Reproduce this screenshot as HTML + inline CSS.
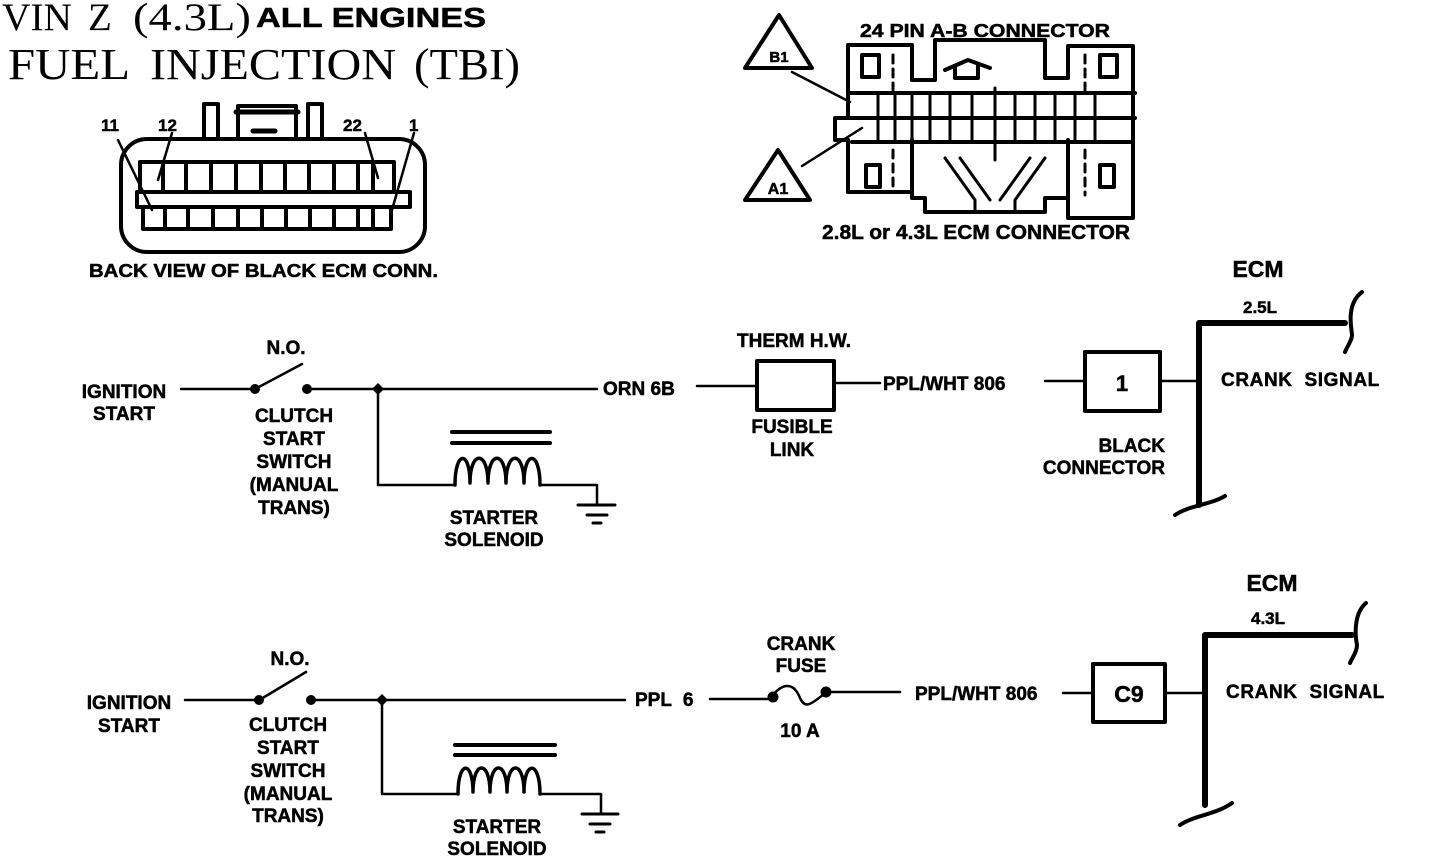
<!DOCTYPE html>
<html><head><meta charset="utf-8"><style>
html,body{margin:0;padding:0;background:#fff;}
svg{display:block;}
.t{font-family:"Liberation Sans",sans-serif;font-weight:bold;fill:#000;stroke:#000;stroke-width:0.5;}
.c{text-anchor:middle;}
.s{font-family:"Liberation Serif",serif;fill:#000;}
</style></head><body>
<svg width="1456" height="858" viewBox="0 0 1456 858" xmlns="http://www.w3.org/2000/svg" style="font-size:19px">
<g fill="none" stroke="#000" stroke-linecap="round" stroke-linejoin="round">

<!-- Black ECM connector -->
<rect x="121" y="139" width="304" height="113" rx="26" stroke-width="4"/>
<rect x="204" y="104" width="14" height="35" stroke-width="4" fill="#fff"/>
<rect x="308" y="104" width="14" height="35" stroke-width="4" fill="#fff"/>
<path d="M238 139 V106 H296 V139" stroke-width="4"/>
<path d="M236 112 H298" stroke-width="5"/>
<path d="M253 131 H275" stroke-width="5"/>
<rect x="140" y="162" width="254" height="30" stroke-width="4"/>
<rect x="137" y="192" width="273" height="15" stroke-width="4"/>
<rect x="143" y="207" width="248" height="22" stroke-width="4"/>
<g stroke-width="4">
<path d="M163 162V192M186 162V192M211 162V192M236 162V192M261 162V192M285 162V192M309 162V192M334 162V192M358 162V192M373 162V192"/>
<path d="M165 207V229M188 207V229M213 207V229M238 207V229M262 207V229M286 207V229M310 207V229M334 207V229M358 207V229M373 207V229"/>
</g>
<g stroke-width="2.5">
<path d="M118 140 L152 210"/><path d="M172 133 L158 180"/>
<path d="M365 133 L378 178"/><path d="M414 133 L392 210"/>
</g>

<!-- 24 pin connector -->
<g stroke-width="4">
<path d="M848 110 V45 H912 V80 H935 V40 H1045 V78 H1068 V46 H1133 V218 H1068 V198 H1045 V212 H925 V198 H912 V192 H848 V140 H835 V118 H848 Z"/>
<path d="M850 93 H1135"/><path d="M850 118 H1135"/><path d="M852 142 H1133"/>
<path d="M912 140 V192"/><path d="M1068 140 V198"/>
<rect x="862" y="55" width="17" height="22"/><rect x="1100" y="55" width="17" height="22"/>
<rect x="866" y="165" width="14" height="22"/><rect x="1100" y="165" width="14" height="22"/>
<path d="M945 70 L968 60 L990 68 M955 66 V78 H978 V66"/>
</g>
<g stroke-width="3">
<path d="M878 95V117M895 95V117M912 95V117M930 95V117M950 95V117M972 95V117M995 95V117M1015 95V117M1035 95V117M1055 95V117M1075 95V117M1095 95V117"/>
<path d="M878 120V141M895 120V141M912 120V141M930 120V141M950 120V141M972 120V141M995 120V141M1015 120V141M1035 120V141M1055 120V141M1075 120V141M1095 120V141"/>
<path d="M995 88V95M995 141V160"/>
<path d="M945 158 L975 200 M960 158 L990 200 M1045 158 L1015 200 M1030 158 L1000 200 M975 200 V210 M1015 200 V210"/>
<path d="M893 55V90M1085 55V90M893 150V190M1085 150V195" stroke-dasharray="8 6"/>
</g>
<path d="M745 68 L779 15 L812 68 Z" stroke-width="4"/>
<path d="M745 200 L778 150 L810 200 Z" stroke-width="4"/>
<path d="M792 72 L850 102" stroke-width="2.5"/>
<path d="M802 166 L862 128" stroke-width="2.5"/>

<!-- Top circuit -->
<g stroke-width="2.5">
<path d="M181 389 H255"/><path d="M257 388 L302 364"/>
<path d="M307 389 H597"/>
<path d="M378 389 V485 H455"/>
<path d="M697 386 H757"/><path d="M834 383 H880"/>
<path d="M1045 381 H1085"/><path d="M1160 381 H1197"/>
<path d="M540 485 H597 V505"/>
</g>
<rect x="757" y="361" width="77" height="49" stroke-width="4"/>
<rect x="1085" y="352" width="75" height="59" stroke-width="4"/>
<path d="M452 432 H550 M452 443 H550" stroke-width="4"/>
<path d="M455 485 C455 450,470 450,470 483 C470 450,488 450,488 483 C488 450,506 450,506 483 C506 450,524 450,524 483 C524 450,540 450,540 485" stroke-width="3.5"/>
<path d="M578 505 H615 M587 515 H607 M593 523 H601" stroke-width="3"/>
<path d="M1199 323 V505 M1199 323 H1345" stroke-width="6"/>
<path d="M1362 292 C1345 305,1352 330,1352 335 C1352 340,1348 345,1345 352" stroke-width="4"/>
<path d="M1175 515 C1190 505,1210 505,1225 496" stroke-width="4"/>

<!-- Bottom circuit -->
<g stroke-width="2.5">
<path d="M185 700 H259"/><path d="M261 699 L306 672"/>
<path d="M311 700 H625"/>
<path d="M382 700 V794 H458"/>
<path d="M710 699 H772"/><path d="M827 692 H900"/>
<path d="M1063 693 H1093"/><path d="M1165 693 H1203"/>
<path d="M540 794 H601 V814"/>
<path d="M772 696 C785 680,795 685,800 698 C806 712,815 700,827 692"/>
</g>
<circle cx="773" cy="697" r="5" fill="#000"/><circle cx="826" cy="692" r="5" fill="#000"/>
<rect x="1093" y="664" width="72" height="58" stroke-width="4"/>
<path d="M455 745 H555 M455 755 H555" stroke-width="4"/>
<path d="M458 794 C458 760,473 760,473 792 C473 760,490 760,490 792 C490 760,507 760,507 792 C507 760,524 760,524 792 C524 760,540 760,540 794" stroke-width="3.5"/>
<path d="M582 814 H618 M590 824 H610 M596 832 H604" stroke-width="3"/>
<path d="M1205 635 V805 M1205 635 H1352" stroke-width="6"/>
<path d="M1366 603 C1352 615,1356 640,1357 645 C1357 652,1352 658,1350 663" stroke-width="4"/>
<path d="M1180 825 C1195 815,1215 815,1232 803" stroke-width="4"/>
</g>
<g fill="#000">
<circle cx="255" cy="389" r="5"/><circle cx="307" cy="389" r="5"/>
<path d="M378 383 L384 389 L378 395 L372 389Z"/>
<circle cx="259" cy="700" r="5"/><circle cx="311" cy="700" r="5"/>
<path d="M382 694 L388 700 L382 706 L376 700Z"/>
</g>

<!-- Text -->
<text class="s" x="2" y="30" style="font-size:39px" textLength="70" lengthAdjust="spacingAndGlyphs">VIN</text>
<text class="s" x="88" y="30" style="font-size:39px">Z</text>
<text class="s" x="133" y="30" style="font-size:39px" textLength="118" lengthAdjust="spacingAndGlyphs">(4.3L)</text>
<text class="t" x="256" y="27" style="font-size:28px" textLength="230" lengthAdjust="spacingAndGlyphs">ALL ENGINES</text>
<text class="s" x="8" y="79" style="font-size:44px" textLength="122" lengthAdjust="spacingAndGlyphs">FUEL</text>
<text class="s" x="150" y="79" style="font-size:44px" textLength="246" lengthAdjust="spacingAndGlyphs">INJECTION</text>
<text class="s" x="414" y="79" style="font-size:44px" textLength="106" lengthAdjust="spacingAndGlyphs">(TBI)</text>

<text class="t" x="101" y="131" style="font-size:17px">11</text>
<text class="t" x="158" y="131" style="font-size:17px">12</text>
<text class="t" x="343" y="131" style="font-size:17px">22</text>
<text class="t" x="409" y="131" style="font-size:17px">1</text>
<text class="t" x="89" y="277" style="font-size:18px" textLength="349" lengthAdjust="spacingAndGlyphs">BACK VIEW OF BLACK ECM CONN.</text>

<text class="t" x="860" y="37" style="font-size:18px" textLength="250" lengthAdjust="spacingAndGlyphs">24 PIN A-B CONNECTOR</text>
<text class="t c" x="779" y="62" style="font-size:15px">B1</text>
<text class="t c" x="778" y="194" style="font-size:16px">A1</text>
<text class="t" x="822" y="239" style="font-size:20px" textLength="308" lengthAdjust="spacingAndGlyphs">2.8L or 4.3L ECM CONNECTOR</text>

<text class="t c" x="124" y="398">IGNITION</text>
<text class="t c" x="124" y="420">START</text>
<text class="t c" x="286" y="354">N.O.</text>
<text class="t c" x="294" y="422">CLUTCH</text>
<text class="t c" x="294" y="445">START</text>
<text class="t c" x="294" y="468">SWITCH</text>
<text class="t c" x="294" y="491">(MANUAL</text>
<text class="t c" x="294" y="514">TRANS)</text>
<text class="t c" x="494" y="524">STARTER</text>
<text class="t c" x="494" y="546">SOLENOID</text>
<text class="t" x="603" y="395">ORN 6B</text>
<text class="t c" x="794" y="347">THERM H.W.</text>
<text class="t c" x="792" y="433">FUSIBLE</text>
<text class="t c" x="792" y="456">LINK</text>
<text class="t" x="883" y="390">PPL/WHT 806</text>
<text class="t c" x="1122" y="391" style="font-size:22px">1</text>
<text class="t" x="1165" y="452" text-anchor="end">BLACK</text>
<text class="t" x="1165" y="474" text-anchor="end">CONNECTOR</text>
<text class="t c" x="1258" y="277" style="font-size:23px">ECM</text>
<text class="t c" x="1260" y="313" style="font-size:17px">2.5L</text>
<text class="t" x="1221" y="386" style="word-spacing:6px;letter-spacing:0.6px">CRANK SIGNAL</text>

<text class="t c" x="129" y="709">IGNITION</text>
<text class="t c" x="129" y="732">START</text>
<text class="t c" x="290" y="665">N.O.</text>
<text class="t c" x="288" y="731">CLUTCH</text>
<text class="t c" x="288" y="754">START</text>
<text class="t c" x="288" y="777">SWITCH</text>
<text class="t c" x="288" y="800">(MANUAL</text>
<text class="t c" x="288" y="822">TRANS)</text>
<text class="t c" x="497" y="833">STARTER</text>
<text class="t c" x="497" y="855">SOLENOID</text>
<text class="t" x="635" y="706" style="word-spacing:6px">PPL 6</text>
<text class="t c" x="801" y="650">CRANK</text>
<text class="t c" x="801" y="672">FUSE</text>
<text class="t c" x="800" y="737">10 A</text>
<text class="t" x="915" y="700">PPL/WHT 806</text>
<text class="t c" x="1129" y="702" style="font-size:23px">C9</text>
<text class="t c" x="1272" y="591" style="font-size:23px">ECM</text>
<text class="t c" x="1268" y="624" style="font-size:17px">4.3L</text>
<text class="t" x="1226" y="698" style="word-spacing:6px;letter-spacing:0.6px">CRANK SIGNAL</text>
</svg>
</body></html>
